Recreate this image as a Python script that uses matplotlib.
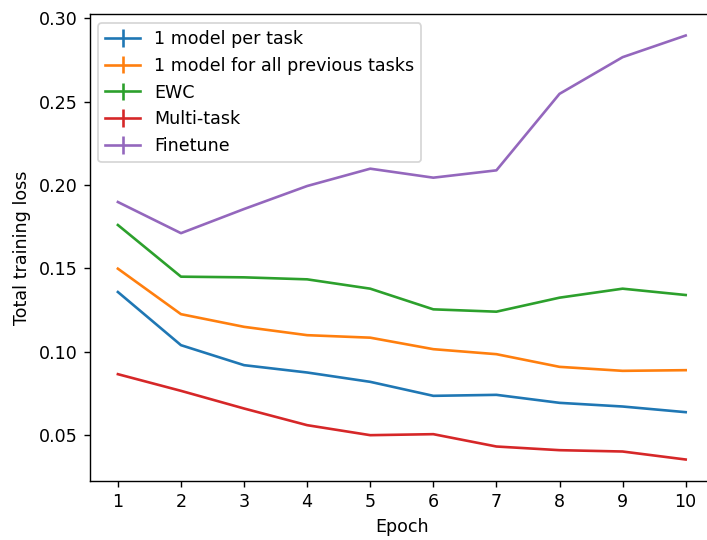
import numpy as np
import matplotlib
matplotlib.use("Agg")
import matplotlib.pyplot as plt

# ── Data ───────────────────────────────────────────────────────────────
epochs = [1, 2, 3, 4, 5, 6, 7, 8, 9, 10]

one_per_task = [0.1357, 0.1038, 0.0918, 0.0874, 0.0818, 0.0734, 0.0740, 0.0692, 0.0670, 0.0636]
one_all_prev = [0.1497, 0.1224, 0.1148, 0.1098, 0.1083, 0.1014, 0.0984, 0.0908, 0.0884, 0.0888]
ewc          = [0.1759, 0.1449, 0.1445, 0.1433, 0.1377, 0.1253, 0.1239, 0.1323, 0.1377, 0.1339]
multi_task   = [0.0864, 0.0764, 0.0658, 0.0558, 0.0498, 0.0504, 0.0430, 0.0408, 0.0400, 0.0352]
finetune     = [0.1897, 0.1710, 0.1855, 0.1993, 0.2097, 0.2043, 0.2087, 0.2546, 0.2766, 0.2896]

# std across runs is negligible at this scale
zero_err = [0.0] * len(epochs)

series = [
    ("1 model per task", one_per_task),
    ("1 model for all previous tasks", one_all_prev),
    ("EWC", ewc),
    ("Multi-task", multi_task),
    ("Finetune", finetune),
]

# ── Plot ───────────────────────────────────────────────────────────────
DPI = 126
fig, ax = plt.subplots(figsize=(707 / DPI, 540 / DPI), dpi=DPI)
fig.subplots_adjust(left=0.1266, right=1.01, top=0.9735, bottom=0.1098)

for label, vals in series:
    ax.errorbar(epochs, vals, yerr=zero_err, label=label)

ax.set_xticks(epochs)
ax.set_xlabel("Epoch")
ax.set_ylabel("Total training loss")
ax.legend(loc="upper left")

fig.savefig("out.png", dpi=DPI)
plt.close(fig)
